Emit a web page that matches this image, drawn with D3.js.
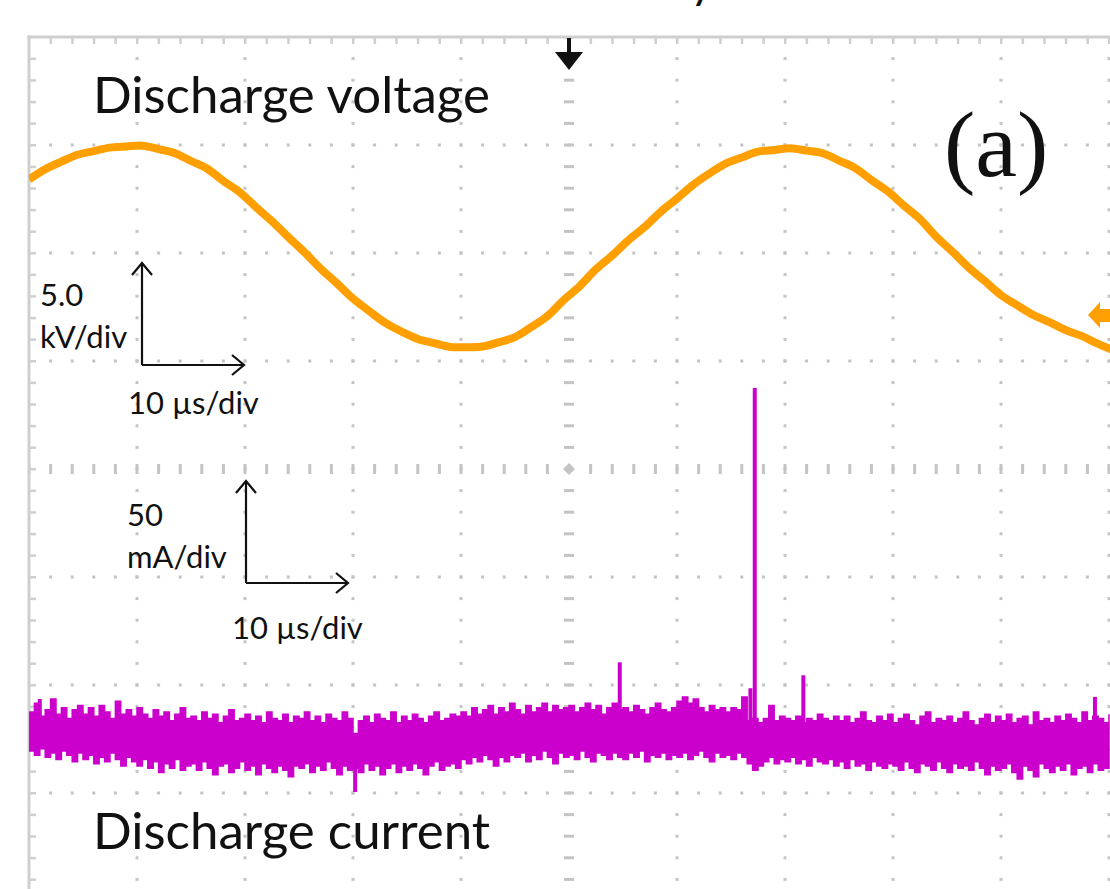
<!DOCTYPE html>
<html>
<head>
<meta charset="utf-8">
<script src="https://cdn.jsdelivr.net/npm/d3@7"></script>
<style>
  html, body { margin: 0; padding: 0; background: #fff; }
  svg { display: block; }
</style>
</head>
<body>
<svg id="chart" width="1110" height="889"></svg>
<script>
// ---------- DATA ----------
// time base: 10 µs/div, 10 divisions, trigger at centre
const timeDomain = [-50, 50];           // µs
const divisionsY = [-4, 4];             // vertical divisions
const voltsPerDiv = 5.0;                // kV/div
const ampsPerDiv = 50;                  // mA/div
const voltageOffsetDiv = 2.05;          // channel offset (div)
const currentOffsetDiv = -2.51;         // channel offset (div)

// Discharge voltage samples (kV), every 1.5 µs starting at -50 µs
const voltageKV = [
  3.15, 3.63, 3.98, 4.30, 4.47, 4.63, 4.68, 4.72, 4.56, 4.37,
  4.01, 3.65, 3.08, 2.57, 1.88, 1.22, 0.49, -0.21, -0.97, -1.65,
  -2.36, -2.94, -3.49, -3.89, -4.23, -4.42, -4.60, -4.61, -4.58, -4.38,
  -4.14, -3.68, -3.17, -2.43, -1.78, -1.00, -0.37, 0.34, 0.95, 1.66,
  2.27, 2.91, 3.43, 3.89, 4.17, 4.44, 4.52, 4.60, 4.49, 4.37,
  4.03, 3.68, 3.13, 2.61, 1.95, 1.32, 0.51, -0.19, -0.92, -1.55,
  -2.20, -2.67, -3.12, -3.45, -3.82, -4.10, -4.46, -4.77
];

// Discharge current noise envelope (mA), every 0.5 µs starting at -50 µs
const currentUpper = [
  13,17,11,14,19,12,15,10,14,16,
  12,15,11,16,13,10,18,12,14,11,
  15,12,10,14,11,13,9,12,15,10,
  11,9,13,10,12,8,11,14,9,10,
  12,9,11,8,13,10,9,12,8,11,
  10,13,9,11,8,12,10,9,13,10,
  3,9,11,8,12,10,9,13,8,11,
  9,12,10,8,11,13,9,10,12,11,
  13,11,15,12,14,16,12,15,13,17,
  14,12,16,13,15,17,13,16,14,15,
  16,13,15,17,14,16,12,15,17,14,
  15,13,16,14,12,15,17,14,13,15,
  18,20,17,19,15,13,16,14,15,13,
  15,14,20,9,10,8,10,16,9,11,
  10,9,11,8,10,9,12,10,9,11,
  9,11,8,10,13,9,8,11,9,12,
  8,10,12,9,7,11,13,8,10,9,
  11,8,10,13,9,7,10,12,8,11,
  9,12,8,10,11,7,13,9,10,8,
  11,9,12,10,8,13,9,11,10,8,12
];
const currentLower = [
  -5,-7,-4,-8,-6,-9,-5,-7,-10,-6,
  -9,-7,-11,-8,-10,-6,-9,-12,-8,-10,
  -12,-9,-13,-10,-15,-11,-13,-9,-14,-12,
  -11,-14,-10,-13,-16,-12,-11,-15,-13,-10,
  -14,-12,-16,-11,-13,-15,-12,-14,-17,-12,
  -13,-11,-15,-12,-14,-10,-13,-16,-12,-14,
  -13,-15,-11,-14,-12,-16,-13,-11,-15,-12,
  -14,-11,-13,-16,-12,-10,-14,-12,-11,-13,
  -9,-11,-8,-10,-7,-9,-12,-8,-10,-7,
  -8,-6,-10,-7,-9,-5,-8,-11,-6,-8,
  -7,-9,-5,-8,-10,-6,-7,-9,-6,-8,
  -9,-6,-8,-5,-10,-7,-8,-6,-9,-7,
  -8,-6,-9,-7,-5,-8,-10,-6,-8,-7,
  -9,-6,-8,-11,-14,-12,-10,-8,-11,-9,
  -10,-8,-11,-9,-12,-8,-10,-11,-9,-12,
  -10,-13,-9,-12,-11,-14,-10,-12,-13,-11,
  -12,-14,-10,-13,-15,-11,-12,-14,-10,-13,
  -15,-11,-13,-12,-14,-10,-13,-16,-12,-14,
  -13,-11,-15,-18,-12,-14,-17,-11,-13,-15,
  -12,-14,-11,-16,-13,-12,-15,-11,-14,-13,-12
];

// discharge current pulses: time (µs) and peak (mA)
const spikeTimes = [-49.0, -19.8, 4.7, 16.8, 17.2, 21.7, 48.7];
const spikePeaks = [19, -24, 36, 24, 163, 30, 20];

// annotation texts
const labels = {
  voltage: "Discharge voltage",
  current: "Discharge current",
  panel: "(a)",
  vScale: ["5.0", "kV/div"],
  iScale: ["50", "mA/div"],
  tScale: "10 \u00b5s/div"
};

// ---------- SCALES ----------
const W = 1110, H = 889;
const x = d3.scaleLinear().domain(timeDomain).range([29, 1109]);
const y = d3.scaleLinear().domain(divisionsY).range([901, 37]);
const yV = v => y(voltageOffsetDiv + v / voltsPerDiv);
const yI = a => y(currentOffsetDiv + a / ampsPerDiv);

const svg = d3.select("#chart");
const defs = svg.append("defs");
defs.append("clipPath").attr("id", "plotclip")
  .append("rect").attr("x", x(-50)).attr("y", y(4)).attr("width", W - x(-50)).attr("height", H - y(4));

// ---------- GRATICULE ----------
const gridColor = "#c4c4c4";
const g = svg.append("g").attr("clip-path", "url(#plotclip)");
const minorX = d3.range(-50, 50.001, 2);
const minorY = d3.range(-4, 4.001, 0.2);
const majorX = d3.range(-40, 50.001, 10).filter(v => Math.abs(v) > 1e-9);
const majorY = d3.range(-3, 4.001, 1).filter(v => Math.abs(v) > 1e-9);

majorX.forEach(t => {
  g.selectAll(null).data(minorY).enter().append("rect")
    .attr("x", x(t) - 1.5).attr("y", d => y(d) - 1.5)
    .attr("width", 3).attr("height", 3).attr("fill", gridColor);
});
majorY.forEach(dv => {
  g.selectAll(null).data(minorX).enter().append("rect")
    .attr("x", d => x(d) - 1.5).attr("y", y(dv) - 1.5)
    .attr("width", 3).attr("height", 3).attr("fill", gridColor);
});
g.selectAll(null).data(minorY.filter(d => Math.abs(d) > 1e-9)).enter().append("rect")
  .attr("x", x(0) - 5).attr("y", d => y(d) - 1.5)
  .attr("width", 10).attr("height", 3).attr("fill", gridColor);
g.selectAll(null).data(minorX.filter(d => Math.abs(d) > 1e-9)).enter().append("rect")
  .attr("x", d => x(d) - 1.5).attr("y", y(0) - 5)
  .attr("width", 3).attr("height", 10).attr("fill", gridColor);
g.append("path")
  .attr("d", `M${x(0) - 6},${y(0)} L${x(0)},${y(0) - 6} L${x(0) + 6},${y(0)} L${x(0)},${y(0) + 6} Z`)
  .attr("fill", gridColor);

// frame: top and left edges with ticks
svg.append("rect").attr("x", x(-50) - 1.5).attr("y", y(4) - 1.5)
  .attr("width", W).attr("height", 3).attr("fill", "#cfcfcf");
svg.append("rect").attr("x", x(-50) - 1.5).attr("y", y(4) - 1.5)
  .attr("width", 3).attr("height", H).attr("fill", "#cfcfcf");
svg.selectAll(null).data(minorX.slice(1)).enter().append("rect")
  .attr("x", d => x(d) - 1).attr("y", y(4))
  .attr("width", 2.5).attr("height", 7).attr("fill", "#cfcfcf");
svg.selectAll(null).data(minorY.slice(0, -1)).enter().append("rect")
  .attr("x", x(-50)).attr("y", d => y(d) - 1)
  .attr("width", 7).attr("height", 2.5).attr("fill", "#cfcfcf");

// ---------- TRACES ----------
const traces = svg.append("g").attr("clip-path", "url(#plotclip)");
const vColor = "#FFA000";
const iColor = "#CC00CC";

const voltageTimes = voltageKV.map((_, i) => timeDomain[0] + 1.5 * i);
traces.append("path")
  .datum(voltageKV)
  .attr("fill", "none")
  .attr("stroke", vColor)
  .attr("stroke-width", 8)
  .attr("stroke-linejoin", "round")
  .attr("d", d3.line().x((d, i) => x(voltageTimes[i])).y(d => yV(d)).curve(d3.curveCatmullRom));

const currentTimes = currentUpper.map((_, i) => timeDomain[0] + 0.5 * i);
const area = d3.area()
  .x((d, i) => x(currentTimes[i]))
  .y0((d, i) => yI(currentLower[i]))
  .y1(d => yI(d))
  .curve(d3.curveStepAfter);
traces.append("path")
  .datum(currentUpper)
  .attr("fill", iColor)
  .attr("stroke", iColor)
  .attr("stroke-width", 1.5)
  .attr("d", area);

traces.selectAll(null).data(spikeTimes).enter().append("rect")
  .attr("x", d => x(d) - 2)
  .attr("width", 4)
  .attr("y", (d, i) => Math.min(yI(0), yI(spikePeaks[i])))
  .attr("height", (d, i) => Math.abs(yI(spikePeaks[i]) - yI(0)))
  .attr("fill", iColor);

// orange level marker at right edge
svg.append("path")
  .attr("d", "M1088,315 L1100,302 L1100,309 L1110,309 L1110,322 L1100,322 L1100,328 Z")
  .attr("fill", vColor);

// trigger position arrow at top centre
svg.append("rect").attr("x", x(0) - 2).attr("y", 38).attr("width", 4).attr("height", 18).attr("fill", "#111");
svg.append("path")
  .attr("d", `M${x(0) - 14},52 L${x(0) + 14},52 L${x(0)},70 Z`)
  .attr("fill", "#111");

// ---------- TEXT ----------
const sans = "Lato, 'Open Sans', sans-serif";
svg.append("text").attr("x", 93).attr("y", 113)
  .attr("font-family", sans).attr("font-size", 51).attr("fill", "#111")
  .text(labels.voltage);
svg.append("text").attr("x", 93).attr("y", 849)
  .attr("font-family", sans).attr("font-size", 51).attr("fill", "#111")
  .text(labels.current);
svg.append("text").attr("x", 944).attr("y", 176)
  .attr("font-family", "'Liberation Serif', 'Times New Roman', serif").attr("font-size", 94).attr("fill", "#111")
  .text(labels.panel);
// title glyph cut by the top edge of the figure
svg.append("text").attr("x", 690).attr("y", -2)
  .attr("font-family", sans).attr("font-size", 46).attr("fill", "#111")
  .text("y");

// scale indicators
function scaleMark(ox, oy, lines, tx, ty, tlx, tly) {
  const s = svg.append("g").attr("stroke", "#111").attr("stroke-width", 2.2).attr("fill", "none");
  s.append("path").attr("d", `M${ox},${oy} L${ox},${oy - 102}`);
  s.append("path").attr("d", `M${ox - 10},${oy - 90} L${ox},${oy - 102} L${ox + 10},${oy - 90}`);
  s.append("path").attr("d", `M${ox},${oy} L${ox + 102},${oy}`);
  s.append("path").attr("d", `M${ox + 90},${oy - 10} L${ox + 102},${oy} L${ox + 90},${oy + 10}`);
  lines.forEach((t, i) => {
    svg.append("text").attr("x", tx).attr("y", ty + i * 42)
      .attr("font-family", sans).attr("font-size", 31).attr("fill", "#111").text(t);
  });
  svg.append("text").attr("x", tlx).attr("y", tly)
    .attr("font-family", sans).attr("font-size", 31).attr("fill", "#111").text(labels.tScale);
}
scaleMark(142, 365, labels.vScale, 40, 306, 128, 414);
scaleMark(246, 583, labels.iScale, 127, 526, 232, 639);
</script>
</body>
</html>
